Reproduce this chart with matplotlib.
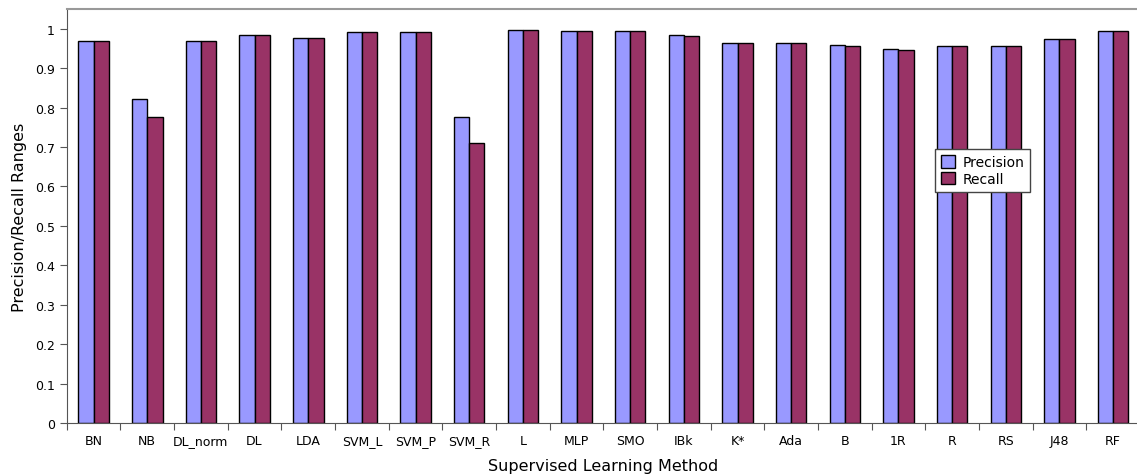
import numpy as np
import matplotlib
matplotlib.use('Agg')
import matplotlib.pyplot as plt
from matplotlib.ticker import FixedLocator, FuncFormatter

# Data
methods = ['BN', 'NB', 'DL_norm', 'DL', 'LDA', 'SVM_L', 'SVM_P', 'SVM_R', 'L', 'MLP',
           'SMO', 'IBk', 'K*', 'Ada', 'B', '1R', 'R', 'RS', 'J48', 'RF']
precision = [0.970, 0.821, 0.970, 0.985, 0.976, 0.991, 0.991, 0.777, 0.998, 0.995,
             0.995, 0.984, 0.965, 0.965, 0.958, 0.948, 0.957, 0.957, 0.974, 0.995]
recall = [0.970, 0.775, 0.969, 0.985, 0.976, 0.991, 0.991, 0.710, 0.998, 0.995,
          0.995, 0.982, 0.964, 0.964, 0.957, 0.945, 0.957, 0.957, 0.974, 0.995]

plt.rcParams['font.family'] = 'DejaVu Sans'

fig = plt.figure(figsize=(11.37, 4.77), dpi=100)
ax = fig.add_axes([0.0587, 0.111, 0.9439, 0.868])

x = np.arange(len(methods))
w = 0.285
ax.bar(x - w / 2, precision, w, color='#9999FF', edgecolor='black', linewidth=1.0, label='Precision')
ax.bar(x + w / 2, recall, w, color='#993366', edgecolor='black', linewidth=1.0, label='Recall')

ax.set_xlim(-0.5, len(methods) - 0.5)
ax.set_ylim(0, 1.05)

# tick marks at the category boundaries, labels centred on each group
ax.xaxis.set_major_locator(FixedLocator(np.arange(len(methods) + 1) - 0.5))
ax.xaxis.set_major_formatter(FuncFormatter(lambda v, p: ''))
ax.xaxis.set_minor_locator(FixedLocator(x))
ax.set_xticklabels(methods, minor=True)
ax.tick_params(axis='x', which='minor', length=0, pad=8, labelsize=9)
ax.tick_params(axis='x', which='major', length=5, color='#555555')

ax.set_yticks(np.arange(0, 1.01, 0.1))
ax.yaxis.set_major_formatter(FuncFormatter(lambda v, p: '%g' % round(v, 1)))
ax.tick_params(axis='y', length=5, labelsize=9, color='#555555')

ax.spines['left'].set_color('#555555')
ax.spines['bottom'].set_color('#555555')
ax.spines['top'].set_color('#999999')
ax.spines['top'].set_linewidth(1.5)
ax.spines['right'].set_visible(False)

ax.set_xlabel('Supervised Learning Method', fontsize=11.5, labelpad=8)
ax.set_ylabel('Precision/Recall Ranges', fontsize=11.5, labelpad=6)

leg = ax.legend(loc='center', bbox_to_anchor=(0.8535, 0.61), fontsize=10,
                fancybox=False, framealpha=1, edgecolor='#444444',
                handlelength=1.0, handleheight=1.0, handletextpad=0.5,
                borderpad=0.45, labelspacing=0.15)

fig.savefig('out.png', dpi=100)
